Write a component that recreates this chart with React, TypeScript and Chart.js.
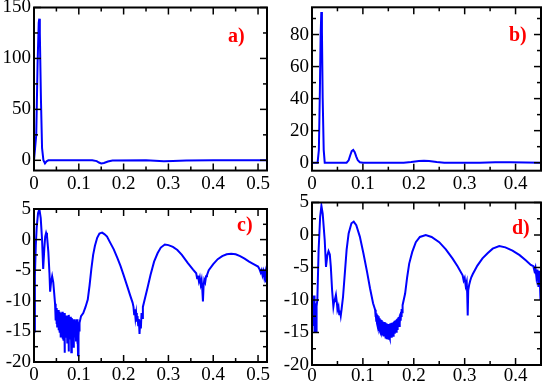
import React, { useEffect, useRef } from "react";
import { Chart, registerables } from "chart.js";
Chart.register(...registerables);

// ---- Panel a ----
const aX = [0, 0.002, 0.005, 0.008, 0.0105, 0.0118, 0.013, 0.0155, 0.018, 0.021, 0.0245, 0.028, 0.032, 0.13, 0.14, 0.145, 0.15, 0.156, 0.165, 0.175, 0.25, 0.27, 0.29, 0.31, 0.34, 0.4, 0.52];
const aY = [0, 0, 25, 95, 135, 139, 125, 60, 12, 0, -3, -1, 0, 0, -0.8, -2.2, -3, -2.6, -1.2, -0.2, 0, -0.4, -0.8, -0.6, -0.2, 0, 0];

// ---- Panel b ----
const bX = [0, 0.011, 0.0135, 0.0155, 0.017, 0.0183, 0.0195, 0.021, 0.023, 0.025, 0.068, 0.072, 0.075, 0.078, 0.081, 0.084, 0.087, 0.09, 0.094, 0.1, 0.18, 0.195, 0.21, 0.22, 0.23, 0.245, 0.26, 0.33, 0.36, 0.39, 0.45];
const bY = [0, 0, 8, 45, 80, 94, 82, 40, 8, 0, 0, 1.5, 4.5, 7.2, 7.9, 6.5, 3.8, 1.5, 0.3, 0, 0, 0.4, 1.0, 1.2, 1.0, 0.4, 0, 0, 0.3, 0.2, 0];

// ---- Panel c ----
const cX = [
  0, 0.002, 0.004, 0.006, 0.009, 0.012, 0.015, 0.018, 0.0205, 0.023, 0.025, 0.027, 0.029, 0.032, 0.0345, 0.036, 0.038, 0.0405, 0.043, 0.045, 0.047,
  0.048, 0.04875, 0.0495, 0.05025, 0.051, 0.05175, 0.0525, 0.05325, 0.054, 0.05475, 0.0555, 0.05625, 0.057, 0.05775, 0.0585, 0.05925,
  0.06, 0.06075, 0.0615, 0.06225, 0.063, 0.06375, 0.0645, 0.06525, 0.066, 0.06675, 0.0675, 0.06825, 0.069, 0.06975, 0.0705, 0.07125,
  0.072, 0.07275, 0.0735, 0.07425, 0.075, 0.07575, 0.0765, 0.07725, 0.078, 0.07875, 0.0795, 0.08025, 0.081, 0.08175, 0.0825, 0.08325,
  0.084, 0.08475, 0.0855, 0.08625, 0.087, 0.08775, 0.0885, 0.08925, 0.09, 0.09075, 0.0915, 0.09225, 0.093, 0.09375, 0.0945, 0.09525,
  0.096, 0.09675, 0.0975, 0.09825, 0.099, 0.09975, 0.1005, 0.10125, 0.102,
  0.105, 0.11, 0.115, 0.12, 0.124, 0.128, 0.132, 0.136, 0.141, 0.146, 0.152, 0.157, 0.163, 0.17, 0.178, 0.186, 0.193, 0.2, 0.208, 0.215, 0.22,
  0.222, 0.2235, 0.225, 0.2265, 0.228, 0.2295, 0.231, 0.2325, 0.234, 0.2355, 0.237, 0.2385, 0.24, 0.2415, 0.243,
  0.247, 0.253, 0.26, 0.268, 0.276, 0.283, 0.292, 0.3, 0.31, 0.32, 0.33, 0.343, 0.355, 0.362,
  0.364, 0.366, 0.368, 0.37, 0.372, 0.374, 0.3755, 0.377, 0.3785, 0.38, 0.382, 0.384, 0.386,
  0.39, 0.4, 0.41, 0.42, 0.43, 0.44, 0.45, 0.46, 0.47, 0.48, 0.49, 0.5,
  0.503, 0.506, 0.508, 0.51, 0.512, 0.514, 0.516, 0.518, 0.52, 0.522,
];
const cY = [
  -15, -6, -1, 2, 4.3, 5.0, 3.5, 0, -4.8, -1.5, 0.5, 1.1, 0.6, -2.0, -5.5, -8.5, -7, -6.0, -7, -8.7, -10.5,
  -11.0, -13.2, -11.4, -13.8, -11.2, -14.2, -11.6, -13.6, -11.5, -14.8, -11.9, -14.0, -11.8, -15.2, -12.1, -16.0,
  -12.0, -14.6, -12.3, -15.0, -11.8, -16.2, -12.4, -14.8, -12.2, -16.5, -12.6, -18.5, -12.0, -15.5, -12.5, -16.0,
  -12.4, -15.2, -12.7, -16.8, -12.5, -15.6, -12.8, -18.3, -12.3, -15.8, -12.9, -16.3, -12.6, -15.4, -13.0, -18.4,
  -12.8, -16.5, -13.1, -15.6, -13.0, -17.5, -13.3, -15.8, -13.0, -16.0, -13.4, -15.5, -13.2, -16.5, -13.5, -15.7,
  -13.0, -17.0, -13.6, -18.9, -13.5, -15.8, -13.8, -15.0, -13.6,
  -12.5, -12, -11, -9.8, -7.5, -4.8, -2.5, -1.0, 0.3, 1.0, 1.15, 0.9, 0.5, -0.5, -1.6, -3, -4.3, -5.8, -7.6, -9.2, -10.3,
  -11, -12.2, -11.4, -12.8, -12, -13.4, -12.5, -14, -13, -15.4, -13.2, -14.5, -12, -12.8, -11,
  -9.8, -8.0, -5.8, -3.6, -2.2, -1.3, -0.8, -0.9, -1.2, -1.7, -2.5, -3.8, -4.9, -5.5,
  -6.3, -5.9, -6.8, -6.2, -7.3, -6.6, -8, -10.1, -7.5, -6.6, -7, -6, -5.8,
  -5.0, -4.0, -3.2, -2.7, -2.4, -2.3, -2.4, -2.7, -3.1, -3.6, -4.0, -4.4,
  -4.8, -5.4, -5, -5.8, -5.2, -6.2, -5.4, -7, -5.6, -7.2,
];

// ---- Panel d ----
const dX = [
  0, 0.001, 0.002, 0.003, 0.004, 0.005, 0.006, 0.007, 0.008, 0.009, 0.0105, 0.013, 0.016, 0.0185, 0.021, 0.025, 0.0275, 0.03, 0.0325, 0.035, 0.037, 0.0395, 0.042, 0.0435, 0.0447, 0.047, 0.049, 0.05, 0.052, 0.0535, 0.055, 0.0565, 0.058, 0.061, 0.0645, 0.068, 0.072, 0.0775, 0.082, 0.087, 0.094, 0.101, 0.108, 0.114, 0.12,
  0.124, 0.12475, 0.1255, 0.12625, 0.127, 0.12775, 0.1285, 0.12925, 0.13, 0.13075, 0.1315, 0.13225, 0.133, 0.13375, 0.1345, 0.13525,
  0.136, 0.13675, 0.1375, 0.13825, 0.139, 0.13975, 0.1405, 0.14125, 0.142, 0.14275, 0.1435, 0.14425, 0.145, 0.14575, 0.1465, 0.14725,
  0.148, 0.14875, 0.1495, 0.15025, 0.151, 0.15175, 0.1525, 0.15325, 0.154, 0.15475, 0.1555, 0.15625, 0.157, 0.15775, 0.1585, 0.15925,
  0.16, 0.16075, 0.1615, 0.16225, 0.163, 0.16375, 0.1645, 0.16525, 0.166, 0.16675, 0.1675, 0.16825, 0.169, 0.16975, 0.1705, 0.17125,
  0.172, 0.17275, 0.1735, 0.17425, 0.175, 0.17575, 0.1765, 0.17725, 0.178,
  0.183, 0.187, 0.191, 0.197, 0.204, 0.212, 0.2235, 0.235, 0.25, 0.263, 0.276, 0.286, 0.296,
  0.298, 0.3, 0.302, 0.304, 0.305, 0.306, 0.307, 0.309, 0.311, 0.313,
  0.316, 0.325, 0.335, 0.345, 0.355, 0.368, 0.38, 0.394, 0.408, 0.42, 0.43,
  0.435, 0.437, 0.439, 0.441, 0.443, 0.445, 0.447, 0.449, 0.45,
];
const dY = [
  -9.5, -14, -10, -13, -9.3, -15, -10.5, -13.5, -14.8, -11, -10, -2.3, 2.8, 4.5, 3.3, -0.8, -4.9, -3.2, -2.5, -3, -4.9, -8.5, -11, -10.2, -10, -9.2, -10.5, -11.5, -11, -12.2, -11.6, -12.4, -11.5, -9.5, -5.9, -2.3, 0.25, 1.8, 2.05, 1.5, -0.25, -2.8, -5.6, -8.2, -10.5,
  -11.5, -12.6, -11.9, -13.2, -12.1, -13.6, -12.3, -14.0, -12.5, -14.3, -12.7, -14.6, -12.8, -14.9, -13.0, -15.1,
  -13.1, -14.8, -13.2, -15.3, -13.3, -15.0, -13.4, -15.6, -13.4, -15.2, -13.5, -15.9, -13.6, -15.4, -13.6, -16.0,
  -13.7, -15.5, -13.7, -16.1, -13.7, -15.6, -13.7, -15.9, -13.6, -15.4, -13.6, -15.8, -13.5, -15.2, -13.5, -15.5,
  -13.4, -15.0, -13.3, -15.2, -13.2, -14.7, -13.1, -14.9, -13.0, -14.5, -12.9, -14.6, -12.8, -14.1, -12.6, -14.0,
  -12.4, -13.6, -12.1, -13.2, -11.8, -12.6, -11.4, -11.9, -10.8,
  -9, -6.5, -4.4, -2.6, -1.1, -0.3, 0, -0.3, -1.1, -2.2, -3.6, -4.8, -6.2,
  -7, -6.6, -7.8, -7.2, -9, -12.4, -8.5, -7.6, -7, -6.5,
  -6, -4.7, -3.6, -2.8, -2.1, -1.7, -1.9, -2.4, -3.1, -3.9, -4.6,
  -4.8, -5.5, -5, -6.5, -5.3, -8, -5.5, -10, -6,
];

// ---- Tick values ----
const xTicksAC = [0, 0.1, 0.2, 0.3, 0.4, 0.5];
const xTicksBD = [0, 0.1, 0.2, 0.3, 0.4];
const yTicksA = [0, 50, 100, 150];
const yTicksB = [0, 20, 40, 60, 80];
const yTicksCD = [-20, -15, -10, -5, 0, 5];

const LABELS = ["a)", "b)", "c)", "d)"];

const FONT = '"Liberation Serif", "Times New Roman", Times, serif';

const minorsOf = (maj: number[], lo: number, hi: number) => {
  const step = maj[1] - maj[0];
  const out: number[] = [];
  for (let k = -1; k < maj.length; k++) {
    const m = maj[0] + step * (k + 0.5);
    if (m > lo && m < hi) out.push(m);
  }
  return out;
};

const boxTicks = {
  id: "boxTicks",
  afterDatasetsDraw(chart: any) {
    const { ctx, chartArea: a, scales } = chart;
    const xs = scales.x;
    const ys = scales.y;
    const MAJ = 7;
    const MIN = 4;
    ctx.save();
    ctx.strokeStyle = "#000";
    ctx.lineWidth = 1.5;
    const seg = (x1: number, y1: number, x2: number, y2: number) => {
      ctx.beginPath();
      ctx.moveTo(x1, y1);
      ctx.lineTo(x2, y2);
      ctx.stroke();
    };
    const xm = xs.ticks.map((t: any) => t.value);
    const ym = ys.ticks.map((t: any) => t.value);
    const dx = (v: number, len: number) => {
      const p = xs.getPixelForValue(v);
      seg(p, a.bottom, p, a.bottom - len);
      seg(p, a.top, p, a.top + len);
    };
    const dy = (v: number, len: number) => {
      const p = ys.getPixelForValue(v);
      seg(a.left, p, a.left + len, p);
      seg(a.right, p, a.right - len, p);
    };
    xm.forEach((v: number) => dx(v, MAJ));
    minorsOf(xm, xs.min, xs.max).forEach((v: number) => dx(v, MIN));
    ym.forEach((v: number) => dy(v, MAJ));
    minorsOf(ym, ys.min, ys.max).forEach((v: number) => dy(v, MIN));
    ctx.lineWidth = 2;
    ctx.strokeRect(a.left, a.top, a.right - a.left, a.bottom - a.top);
    ctx.restore();
  },
};

type Panel = {
  x: number[];
  y: number[];
  xt: number[];
  yt: number[];
  left: number;
  top: number;
  w: number;
  h: number;
  yW: number;
  padTop: number;
  padRight: number;
  xH: number;
  xMax: number;
  yMin: number;
  yMax: number;
  xPad: number;
};

const PANELS: Panel[] = [
  { x: aX, y: aY, xt: xTicksAC, yt: yTicksA, left: 0, top: 0, w: 272, h: 192, yW: 34, padTop: 7.5, padRight: 5, xH: 21.5, xMax: 0.52, yMin: -10, yMax: 150, xPad: 2 },
  { x: bX, y: bY, xt: xTicksBD, yt: yTicksB, left: 272, top: 0, w: 273, h: 192, yW: 40, padTop: 7.3, padRight: 4, xH: 21.3, xMax: 0.45, yMin: -5, yMax: 97, xPad: 2 },
  { x: cX, y: cY, xt: xTicksAC, yt: yTicksCD, left: 0, top: 192, w: 272, h: 193, yW: 34, padTop: 17, padRight: 5, xH: 23, xMax: 0.52, yMin: -20, yMax: 5, xPad: 2 },
  { x: dX, y: dY, xt: xTicksBD, yt: yTicksCD, left: 272, top: 192, w: 273, h: 193, yW: 40, padTop: 10.5, padRight: 4, xH: 20, xMax: 0.45, yMin: -20, yMax: 5, xPad: 0 },
];

const LABEL_POS = [
  { left: 228, top: 25 },
  { left: 509, top: 23.5 },
  { left: 237, top: 214 },
  { left: 512, top: 217 },
];

function PanelChart({ p }: { p: Panel }) {
  const ref = useRef<HTMLCanvasElement | null>(null);
  useEffect(() => {
    if (!ref.current) return;
    const tickFont = { family: FONT, size: 19 };
    const chart = new Chart(ref.current, {
      type: "line",
      data: {
        datasets: [
          {
            data: p.x.map((x, i) => ({ x, y: p.y[i] })),
            borderColor: "#0000ff",
            borderWidth: 2,
            pointRadius: 0,
            tension: 0,
            fill: false,
          },
        ],
      },
      options: {
        animation: false,
        responsive: false,
        maintainAspectRatio: false,
        devicePixelRatio: 1,
        layout: { padding: { top: p.padTop, right: p.padRight, left: 0, bottom: 0 } },
        plugins: { legend: { display: false }, tooltip: { enabled: false } },
        scales: {
          x: {
            type: "linear",
            min: 0,
            max: p.xMax,
            grid: { display: false, drawTicks: false },
            border: { display: false },
            afterBuildTicks: (s: any) => {
              s.ticks = p.xt.map((v) => ({ value: v }));
            },
            ticks: {
              autoSkip: false,
              maxRotation: 0,
              padding: p.xPad,
              color: "#000",
              font: tickFont,
              callback: (v: any) => String(+Number(v).toFixed(2)),
            },
            afterFit: (s: any) => {
              s.height = p.xH;
              s.paddingLeft = 0;
              s.paddingRight = 0;
            },
          },
          y: {
            type: "linear",
            min: p.yMin,
            max: p.yMax,
            grid: { display: false, drawTicks: false },
            border: { display: false },
            afterBuildTicks: (s: any) => {
              s.ticks = p.yt.map((v) => ({ value: v }));
            },
            ticks: {
              autoSkip: false,
              padding: 3,
              color: "#000",
              font: tickFont,
              callback: (v: any) => String(+Number(v).toFixed(2)),
            },
            afterFit: (s: any) => {
              s.width = p.yW;
              s.paddingTop = 0;
              s.paddingBottom = 0;
            },
          },
        },
      },
      plugins: [boxTicks],
    } as any);
    return () => chart.destroy();
  }, [p]);
  return (
    <canvas
      ref={ref}
      width={p.w}
      height={p.h}
      style={{ position: "absolute", left: p.left, top: p.top, width: p.w, height: p.h }}
    />
  );
}

export default function App() {
  return (
    <div style={{ position: "absolute", left: 0, top: 0, width: 545, height: 385, background: "#fff", overflow: "hidden" }}>
      {PANELS.map((p, i) => (
        <PanelChart key={i} p={p} />
      ))}
      {LABELS.map((t, i) => (
        <div
          key={t}
          style={{
            position: "absolute",
            left: LABEL_POS[i].left,
            top: LABEL_POS[i].top,
            font: `bold 20px ${FONT}`,
            lineHeight: "20px",
            color: "#ff0000",
            whiteSpace: "nowrap",
          }}
        >
          {t}
        </div>
      ))}
    </div>
  );
}
